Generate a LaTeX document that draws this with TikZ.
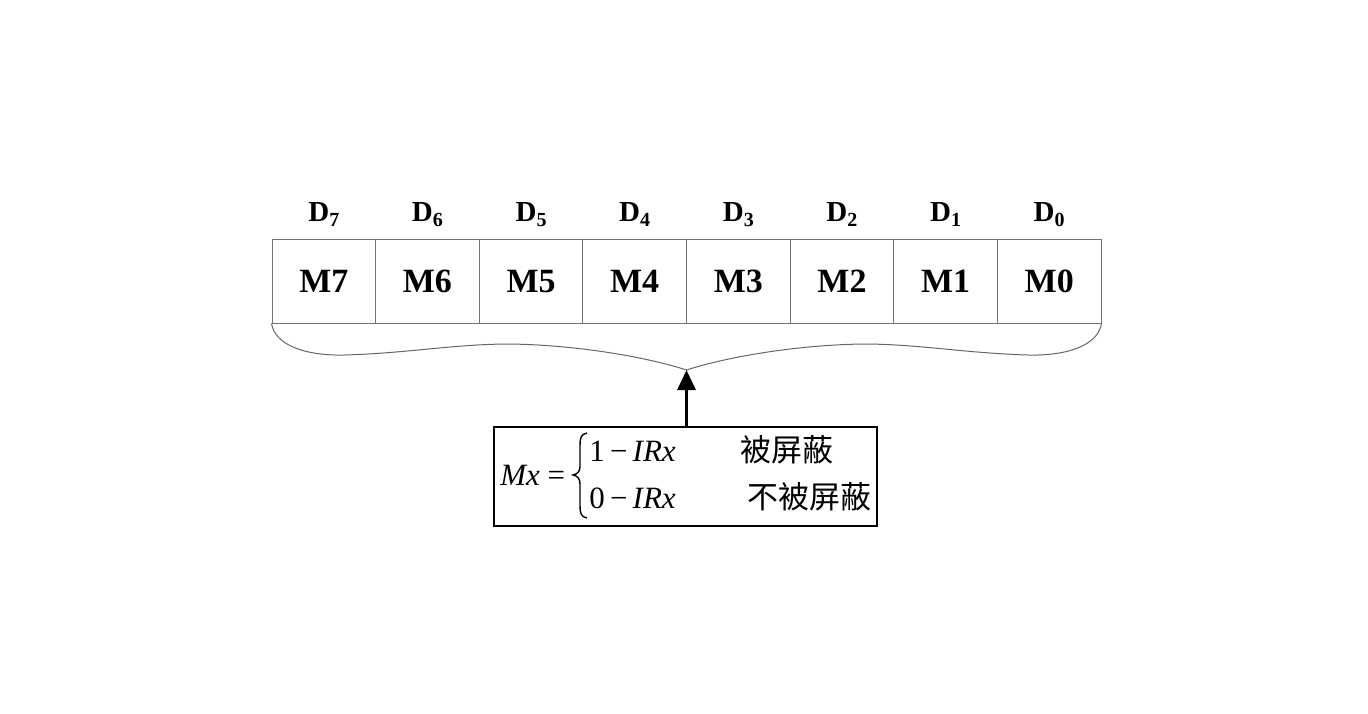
\documentclass[tikz,border=0pt]{standalone}
\usepackage{fontspec}
\setmainfont{Liberation Serif}
\newfontfamily\cjk{Noto Sans CJK SC}
\usetikzlibrary{arrows.meta}
\tikzset{
  cell/.style={draw=black!55, line width=0.5pt, minimum width=51.8125pt, minimum height=42pt, inner sep=0pt, text height=11.5pt, text depth=0pt, font=\fontsize{17}{17}\selectfont\bfseries},
  dlab/.style={inner sep=0pt, anchor=base, font=\fontsize{14.5}{14.5}\selectfont\bfseries},
  ftxt/.style={inner sep=0pt, font=\fontsize{15.5}{15.5}\selectfont},
  ctxt/.style={inner sep=0pt, font=\fontsize{15.5}{15.5}\selectfont\cjk},
  cbrace/.style={line width=0.7pt},
}
\newcommand{\dsub}[1]{D\raisebox{-0.45ex}{\fontsize{10}{10}\selectfont #1}}
\begin{document}
\begin{tikzpicture}[x=0.5pt,y=-0.5pt]
\useasboundingbox (0,0) rectangle (1368,713);
\foreach \i/\k in {0/7,1/6,2/5,3/4,4/3,5/2,6/1,7/0}{
  \node[cell] (m\k) at ({272+103.625*(\i+0.5)},281) {M\k};
  \node[dlab] (d\k) at ({272+103.625*(\i+0.5)},221) {\dsub{\k}};
}
\coordinate (bl) at (m7.south west);
\coordinate (br) at (m0.south east);
\coordinate (tip) at (686.5,370);
\draw[black!60, line width=0.5pt] (bl) .. controls (275,345) and (305,356) .. (345,355)
  .. controls (410,353) and (455,344) .. (510,344)
  .. controls (580,345) and (650,358) .. (tip)
  .. controls (723,358) and (793,345) .. (863,344)
  .. controls (918,344) and (963,353) .. (1028,355)
  .. controls (1068,356) and (1098,345) .. (br);
\node[draw=black, line width=1pt, minimum width=191.5pt, minimum height=49.5pt, inner sep=0pt] (box) at (685.5,476.5) {};
\draw[-{Triangle[length=10pt,width=9pt]}, line width=1.6pt] (box.north -| tip) -- (tip);
\node[ftxt, anchor=west] (mx) at (500,475) {\textit{Mx} =};
\draw[cbrace] (587,433) .. controls (581,434) and (580,438) .. (580,445)
  -- (580,466) .. controls (580,471) and (578,474) .. (573,475)
  .. controls (578,476) and (580,479) .. (580,484)
  -- (580,506) .. controls (580,513) and (581,517) .. (587,518);
\node[ftxt, anchor=west] (l1) at (589,451) {1\,−\,\textit{IRx}};
\node[ftxt, anchor=west] (l2) at (589,498) {0\,−\,\textit{IRx}};
\node[ctxt, anchor=west] (c1) at (740,450) {被屏蔽};
\node[ctxt, anchor=east] (c2) at (872,497) {不被屏蔽};
\end{tikzpicture}
\end{document}
